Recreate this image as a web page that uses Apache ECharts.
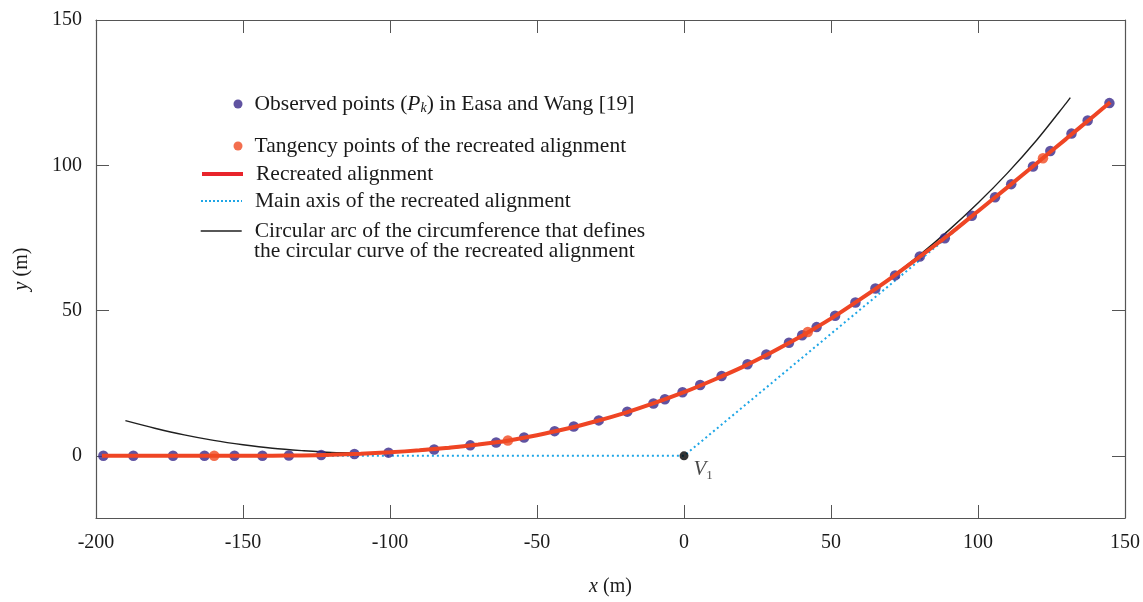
<!DOCTYPE html>
<html>
<head>
<meta charset="utf-8">
<script src="https://cdn.jsdelivr.net/npm/echarts@6/dist/echarts.min.js"></script>
<style>html,body{margin:0;padding:0;background:#fff;overflow:hidden}#c{position:absolute;left:0;top:0;width:1143px;height:602px}</style>
</head>
<body>
<div id="c"></div>
<script>
// ---- data (metres) ----
const obsX = [-197.5,-187.3,-173.8,-163.1,-152.9,-143.4,-134.4,-123.4,-112.1,-100.5,-85.0,-72.7,-63.9,-54.4,-44.0,-37.5,-29.0,-19.3,-10.4,-6.5,-0.5,5.5,12.8,21.6,28.0,35.7,40.2,45.1,51.4,58.3,65.1,71.8,80.2,88.7,97.9,105.8,111.3,118.7,124.6,131.8,137.3,144.7];
const obsY = [0,0,0,0,0,0,0.1,0.3,0.6,1.1,2.2,3.6,4.6,6.3,8.5,10.1,12.2,15.2,18.0,19.5,21.9,24.4,27.5,31.5,34.9,38.9,41.5,44.3,48.2,52.8,57.6,62.1,68.6,74.9,82.6,89.0,93.5,99.6,104.9,110.9,115.4,121.4];

const tanX = [-159.8,-59.9,42.1,122.1];
const tanY = [0,5.3,42.6,102.4];

const alignX = [-198,-190,-180,-170,-160,-150,-140,-130,-120,-110,-100,-90,-80,-70,-60,-50,-40,-30,-20,-10,0,10,20,30,40,42,50,60,70,80,90,100,110,120,122,130,140,145];
const alignY = [0,0,0,0,0,0.01,0.05,0.15,0.35,0.7,1.2,1.9,2.8,3.9,5.2,7.1,9.3,11.9,14.8,18.2,21.9,26.1,30.6,35.7,41.2,42.4,47.2,53.9,60.9,68.4,76.0,84.2,92.4,100.7,102.4,109.1,117.5,121.7];

const mainAxisX = [-198,0,145];
const mainAxisY = [0,0,121.8];

const arcX = [-190,-180,-170,-160,-150,-140,-130,-120,-110,-100,-90,-80,-70,-60,-50,-40,-30,-20,-10,0,10,20,30,40,50,60,70,80,90,100,110,120,130,131.4];
const arcY = [12.1,9.5,7.2,5.3,3.8,2.6,1.8,1.2,1.1,1.2,1.7,2.5,3.7,5.2,7.1,9.3,11.9,14.8,18.2,21.9,26.1,30.6,35.7,41.2,47.3,53.9,61.1,69.0,77.6,87.0,97.3,108.7,121.4,123.3];

const vertexX = [0];
const vertexY = [0];

const xTicks = [-200,-150,-100,-50,0,50,100,150];
const yTicks = [0,50,100,150];

const NAMES = {
  obs: 'Observed points (Pk) in Easa and Wang [19]',
  tan: 'Tangency points of the recreated alignment',
  align: 'Recreated alignment',
  axis: 'Main axis of the recreated alignment',
  arc: 'Circular arc of the circumference that defines'
};
const ARC_LINE2 = 'the circular curve of the recreated alignment';

// ---- helpers ----
const pairs = (xs, ys) => xs.map((x, i) => [x, ys[i]]);
const FONT = '"Liberation Serif", "Times New Roman", serif';
const TXT = '#1a1a1a';
const AX = '#555';
const LFS = 21.5;

function leg(name, left, top, w, h, extra) {
  return Object.assign({
    show: true, selectedMode: false, orient: 'vertical', padding: 0,
    left: left, top: top, itemWidth: w, itemHeight: h, itemGap: 0,
    data: [name],
    textStyle: { fontFamily: FONT, fontSize: LFS, color: TXT, lineHeight: 22 }
  }, extra || {});
}

const dom = document.getElementById('c');
const chart = echarts.init(dom, null, { renderer: 'canvas', width: 1143, height: 602 });

const axisCommonX = {
  type: 'value', min: -200, max: 150, interval: 50,
  splitLine: { show: false },
  axisLine: { show: true, onZero: false, lineStyle: { color: AX, width: 1.2 } },
  axisTick: { show: true, inside: true, length: 13, lineStyle: { color: AX, width: 1 } }
};
const axisCommonY = {
  type: 'value', min: -21.4, max: 150,
  splitLine: { show: false },
  axisLine: { show: true, onZero: false, lineStyle: { color: AX, width: 1.2 } },
  axisTick: { show: true, inside: true, length: 13, customValues: yTicks, lineStyle: { color: AX, width: 1 } }
};

const lineLegText = { fontFamily: FONT, fontSize: LFS, color: TXT, lineHeight: 22, padding: [0, 0, 0, 8] };

const option = {
  animation: false,
  backgroundColor: '#fff',
  grid: { left: 96, right: 15, top: 20, bottom: 78, containLabel: false },
  xAxis: [
    Object.assign({}, axisCommonX, {
      position: 'bottom',
      axisLabel: { show: true, customValues: xTicks, fontFamily: FONT, fontSize: 20, color: TXT, margin: 15 },
      name: '{i|x} (m)', nameLocation: 'middle', nameGap: 59,
      nameTextStyle: { fontFamily: FONT, fontSize: 20, color: TXT,
        rich: { i: { fontFamily: FONT, fontSize: 20, fontStyle: 'italic', color: TXT } } }
    }),
    Object.assign({}, axisCommonX, { position: 'top', axisLabel: { show: false } })
  ],
  yAxis: [
    Object.assign({}, axisCommonY, {
      position: 'left',
      axisLabel: { show: true, customValues: yTicks, fontFamily: FONT, fontSize: 20, color: TXT, margin: 14 },
      name: '{i|y} (m)', nameLocation: 'middle', nameGap: 64,
      nameTextStyle: { fontFamily: FONT, fontSize: 20, color: TXT,
        rich: { i: { fontFamily: FONT, fontSize: 20, fontStyle: 'italic', color: TXT } } }
    }),
    Object.assign({}, axisCommonY, { position: 'right', axisLabel: { show: false } })
  ],
  legend: [
    leg(NAMES.obs, 233.5, 93, 9, 9, {
      formatter: () => 'Observed points ({i|P}{s|k}) in Easa and Wang [19]',
      textStyle: { fontFamily: FONT, fontSize: LFS, color: TXT, lineHeight: 22, padding: [0, 0, 0, 7],
        rich: {
          i: { fontFamily: FONT, fontSize: LFS, fontStyle: 'italic', color: TXT, lineHeight: 22 },
          s: { fontFamily: FONT, fontSize: 14, fontStyle: 'italic', color: TXT, lineHeight: 8, verticalAlign: 'bottom' }
        } }
    }),
    leg(NAMES.tan, 233.5, 135, 9, 9, {
      textStyle: { fontFamily: FONT, fontSize: LFS, color: TXT, lineHeight: 22, padding: [0, 0, 0, 7] }
    }),
    leg(NAMES.align, 200, 163, 41, 14, {
      data: [{ name: NAMES.align, itemStyle: { opacity: 0 }, lineStyle: { color: '#e8242b', width: 4 } }],
      textStyle: lineLegText
    }),
    leg(NAMES.axis, 200, 190, 41, 14, {
      data: [{ name: NAMES.axis, itemStyle: { opacity: 0 }, lineStyle: { color: '#1ea6e6', width: 2, type: [2, 2] } }],
      textStyle: lineLegText
    }),
    leg(NAMES.arc, 200, 220, 41, 14, {
      data: [{ name: NAMES.arc, itemStyle: { opacity: 0 }, lineStyle: { color: '#1f1f1f', width: 1.4 } }],
      textStyle: lineLegText
    })
  ],
  graphic: [
    { type: 'text', left: 254, top: 240, silent: true,
      style: { text: ARC_LINE2, font: LFS + 'px ' + FONT, fill: TXT } }
  ],
  series: [
    {
      name: NAMES.axis, type: 'line', data: pairs(mainAxisX, mainAxisY),
      symbol: 'none', z: 1,
      lineStyle: { color: '#1ea6e6', width: 2, type: [2, 3] },
      itemStyle: { color: '#1ea6e6' }
    },
    {
      name: NAMES.arc, type: 'line', data: pairs(arcX, arcY),
      symbol: 'none', smooth: 0.3, z: 2,
      lineStyle: { color: '#1f1f1f', width: 1.4 },
      itemStyle: { color: '#1f1f1f' }
    },
    {
      name: NAMES.obs, type: 'scatter', data: pairs(obsX, obsY),
      symbol: 'circle', symbolSize: 10.5, z: 3,
      itemStyle: { color: '#38288a' }
    },
    {
      name: NAMES.align, type: 'line', data: pairs(alignX, alignY),
      symbol: 'none', smooth: 0.25, z: 4,
      lineStyle: { color: '#ef4524', width: 4 },
      itemStyle: { color: '#ef4524' }
    },
    {
      name: NAMES.tan, type: 'scatter', data: pairs(tanX, tanY),
      symbol: 'circle', symbolSize: 10.5, z: 5,
      itemStyle: { color: '#f04a22' }
    },
    {
      name: 'V1', type: 'scatter', data: pairs(vertexX, vertexY),
      symbol: 'circle', symbolSize: 9, z: 6,
      itemStyle: { color: '#000' },
      label: {
        show: true, position: 'right', distance: 5, offset: [0, 14],
        formatter: '{v|V}{s|1}',
        rich: {
          v: { fontFamily: FONT, fontSize: 21, fontStyle: 'italic', color: TXT, lineHeight: 24 },
          s: { fontFamily: FONT, fontSize: 13, color: TXT, lineHeight: 10, verticalAlign: 'bottom' }
        }
      }
    }
  ]
};
chart.setOption(option);
</script>
</body>
</html>
